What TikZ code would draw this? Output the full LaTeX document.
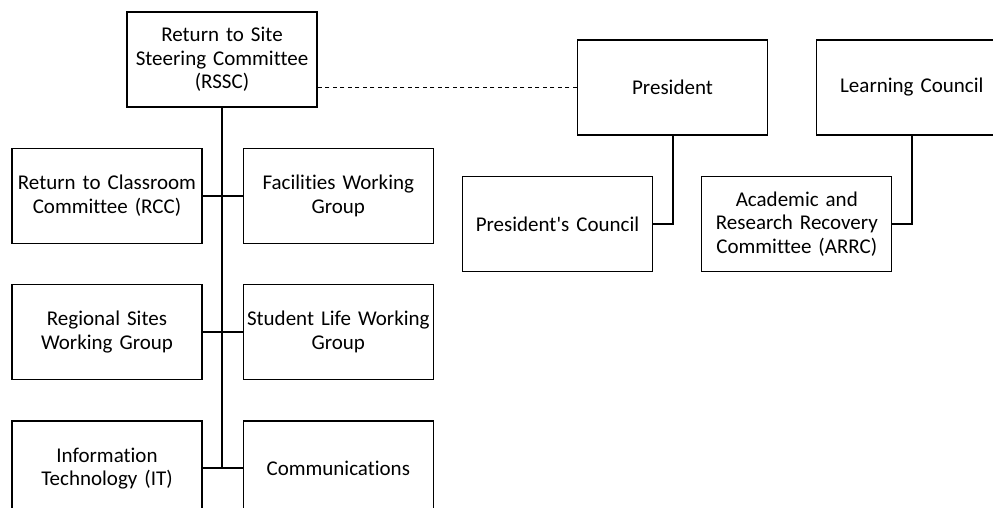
\documentclass[tikz,border=0pt]{standalone}
\usepackage{fontspec}
\setmainfont{Carlito}[Ligatures=NoCommon]
\usetikzlibrary{positioning, calc}

\begin{document}
\begin{tikzpicture}[x=1pt, y=1pt, node distance = 40pt and 40pt,
unit/.style= {rectangle, align=center, line width=1.3pt, draw=black, inner sep=0pt, text width= 190pt, minimum height=95pt, font=\fontsize{21pt}{23.5pt}\selectfont},
link/.style= {line width=2pt} ]
\path[use as bounding box, clip] (0,0) rectangle (993,-508);
\node (RSSC) [unit] at (222,-59.5) {Return to Site\\ Steering Committee\\ (RSSC)};
\node (RCC) [unit, below = of RSSC, xshift=-115pt] {Return to Classroom\\ Committee (RCC)};
\node (FWG) [unit, right = of RCC] {Facilities Working\\ Group};
\node (RSWG) [unit, below = of RCC] {Regional Sites\\ Working Group};
\node (SLWG) [unit, right = of RSWG] {Student Life Working\\ Group};
\node (IT) [unit, below = of RSWG] {Information\\ Technology (IT)};
\node (COM) [unit, right = of IT] {Communications};
\node (PRES) [unit] at (672.5,-87.5) {President};
\node (PC) [unit, below = of PRES, xshift=-115pt] {President\textquotesingle s Council};
\node (LC) [unit, right = 48pt of PRES] {Learning Council};
\node (ARRC) [unit, below = of LC, xshift=-115pt] {Academic and\\ Research Recovery\\ Committee (ARRC)};
\draw[link] (RSSC.south) -- (RSSC.south |- IT.east);
\draw[link] (RCC.east) -- (FWG.west);
\draw[link] (RSWG.east) -- (SLWG.west);
\draw[link] (IT.east) -- (COM.west);
\draw[link] (PRES.south) |- (PC.east);
\draw[link] (LC.south) |- (ARRC.east);
\draw[line width=1.3pt, dash pattern=on 4pt off 3.5pt] (PRES.west) -- (PRES.west -| RSSC.east);
\end{tikzpicture}
\end{document}
